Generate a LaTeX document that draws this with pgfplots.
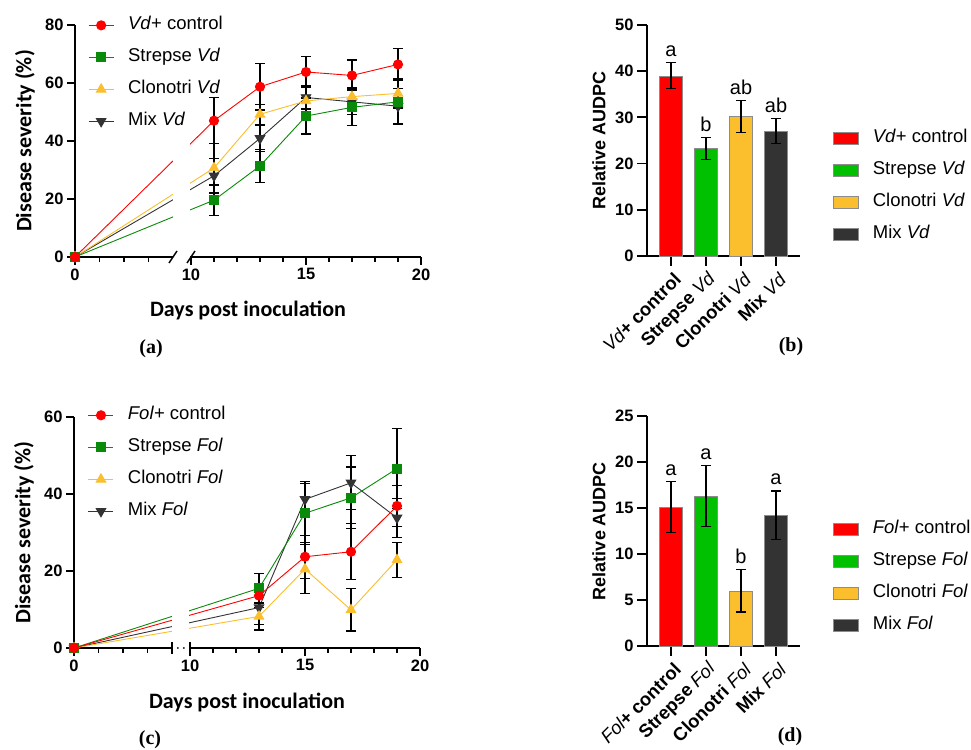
\documentclass[border=0pt]{standalone}
\usepackage{pgfplots}
\pgfplotsset{compat=1.18}
\usepackage{fontspec}
\setmainfont{Liberation Sans}
\newfontfamily\calib{Carlito}
\newfontfamily\capfont{Liberation Serif}

\definecolor{cred}{HTML}{FF0000}
\definecolor{cgreen}{HTML}{0A8A0A}
\definecolor{cbargreen}{HTML}{00C000}
\definecolor{cyell}{HTML}{FBBE2C}
\definecolor{cmix}{HTML}{333333}

\newcommand{\fs}[1]{\fontsize{#1}{#1}\selectfont}

\pgfplotsset{
  common/.style={
    scale only axis,
    axis lines=left, axis line style={line width=1.8pt,-},
    tick align=outside,
    major tick length=8pt, minor tick length=5pt,
    every tick/.style={black,line width=1.8pt},
    ymin=0, clip=false,
    tick label style={font=\bfseries\fs{16.5}},
    /pgf/number format/assume math mode=true,
    legend cell align=left,
    legend style={draw=none, fill=none, anchor=north west, font=\fs{18.5},
      inner sep=0pt, row sep=15pt, column sep=14pt,
      nodes={inner sep=0pt, text height=13pt, text depth=4pt}},
  },
  lineax/.style={
    common, width=346pt, height=232pt,
    x coord trafo/.code={\pgfmathparse{##1<9 ? ##1*12.25 : 116+(##1-10)*23}},
    xmin=0, xmax=20, xtick={0,10,15,20}, xticklabels={0,10,15,20},
    minor xtick={2,4,6,11,12,13,14,16,17,18,19},
    xlabel={\calib\bfseries\fs{22}Days post inoculation},
    ylabel={\calib\bfseries\fs{22}Disease severity (\%)},
    xlabel style={at={(axis description cs:0.5,0)}, anchor=center, yshift=-54pt},
    ylabel style={at={(axis description cs:-0.145,0.5)}, anchor=center},
    legend image code/.code={\draw[mark repeat=2,mark phase=2,##1] plot coordinates {(0pt,0pt)(12.5pt,0pt)(25pt,0pt)};},
    reverse legend,
    legend style={at={(axis description cs:0.0376,1.036)}},
  },
  barax/.style={
    common, width=153pt, height=231pt,
    xmin=-0.686, xmax=3.686, xtick={0,1,2,3},
    major tick length=10pt,
    ybar, bar width=23pt, bar shift=0pt,
    x tick label style={xshift=9pt, yshift=-8pt, rotate=45, anchor=east, font=\bfseries\fs{18.5}},
    ylabel={\bfseries\fs{18}Relative AUDPC},
    ylabel style={at={(axis description cs:-0.314,0.5)}, anchor=center},
    legend image code/.code={\draw[##1,draw=black!45,line width=0.6pt] (0pt,-6pt) rectangle (25pt,6pt);},
  },
  ebars/.style={error bars/.cd, y dir=both, y explicit,
    error bar style={black,line width=1.2pt},
    error mark options={black,line width=1.2pt,mark size=5pt,rotate=90}},
  smix/.style={cmix, line width=0.9pt, mark=triangle*, mark size=5.5pt, mark options={rotate=180, fill=cmix}, ebars},
  syel/.style={cyell, line width=0.9pt, mark=triangle*, mark size=5.5pt, mark options={fill=cyell}, ebars},
  sgrn/.style={cgreen, line width=0.9pt, mark=square*, mark size=4.5pt, mark options={fill=cgreen}, ebars},
  sred/.style={cred, line width=0.9pt, mark=*, mark size=4.6pt, mark options={fill=cred}, ebars},
}

\begin{document}
\begin{tikzpicture}
\useasboundingbox (0,0) rectangle (971pt,749pt);

% (a) Vd disease severity
\begin{axis}[lineax, at={(75pt,492pt)}, anchor=south west, ymax=80, ytick={0,20,40,60,80}]
\addplot[smix] coordinates {(0,0) (11,28.0) +- (0,6) (13,40.9) +- (0,4.5) (15,55.0) +- (0,4) (17,53.5) +- (0,4.5) (19,52.0) +- (0,6)};
\addplot[syel] coordinates {(0,0) (11,30.7) +- (0,8.5) (13,49.2) +- (0,3.5) (15,53.8) +- (0,5) (17,55.3) +- (0,3) (19,56.4) +- (0,5)};
\addplot[sgrn] coordinates {(0,0) (11,19.6) +- (0,5.2) (13,31.4) +- (0,5.7) (15,48.6) +- (0,6.2) (17,51.6) +- (0,6.3) (19,53.5) +- (0,7.7)};
\addplot[sred] coordinates {(0,0) (11,47.0) +- (0,8) (13,58.7) +- (0,8) (15,63.8) +- (0,5.3) (17,62.6) +- (0,5.3) (19,66.4) +- (0,5.5)};
\legend{Mix \textit{Vd}, Clonotri \textit{Vd}, Strepse \textit{Vd}, \textit{Vd}+ control}
\fill[white] (rel axis cs:0.2832,-0.03) rectangle (rel axis cs:0.332,0.56);
\draw[line width=1.5pt] ([xshift=-4pt,yshift=-6pt]rel axis cs:0.2832,0) -- ++(8pt,12pt);
\draw[line width=1.5pt] ([xshift=-4pt,yshift=-6pt]rel axis cs:0.3353,0) -- ++(8pt,12pt);
\end{axis}

% (c) Fol disease severity
\begin{axis}[lineax, at={(74pt,101pt)}, anchor=south west, height=231pt, ymax=60, ytick={0,20,40,60},
  legend style={at={(axis description cs:0.04,1.045)}}]
\addplot[smix] coordinates {(0,0) (13,10.5) +- (0,4.5) (15,38.6) +- (0,4.7) (17,42.9) +- (0,7) (19,33.8) +- (0,5)};
\addplot[syel] coordinates {(0,0) (13,8.2) +- (0,3.5) (15,20.5) +- (0,6.3) (17,9.9) +- (0,5.5) (19,22.9) +- (0,4.6)};
\addplot[sgrn] coordinates {(0,0) (13,15.5) +- (0,3.8) (15,35.0) +- (0,7.7) (17,39.0) +- (0,8) (19,46.6) +- (0,10.4)};
\addplot[sred] coordinates {(0,0) (13,13.6) +- (0,3) (15,23.7) +- (0,5.6) (17,25.0) +- (0,7.3) (19,36.9) +- (0,5.4)};
\legend{Mix \textit{Fol}, Clonotri \textit{Fol}, Strepse \textit{Fol}, \textit{Fol}+ control}
\fill[white] (rel axis cs:0.2832,-0.03) rectangle (rel axis cs:0.332,0.3);
\draw[line width=1.5pt] ([yshift=-6pt]rel axis cs:0.2832,0) -- ++(0,12pt);
\draw[line width=1.5pt] ([yshift=-6pt]rel axis cs:0.3353,0) -- ++(0,12pt);
\fill ([xshift=6pt]rel axis cs:0.2832,0) circle (1pt);
\fill ([xshift=12pt]rel axis cs:0.2832,0) circle (1pt);
\end{axis}

% (b) Vd AUDPC
\begin{axis}[barax, at={(647pt,493pt)}, anchor=south west, ymax=50, ytick={0,10,...,50},
  xticklabels={{\mdseries\itshape Vd}+ control, Strepse {\mdseries\itshape Vd}, Clonotri {\mdseries\itshape Vd}, Mix {\mdseries\itshape Vd}},
  legend style={at={(axis description cs:1.216,0.548)}}]
\addplot[fill=cred, draw=black!45, ebars] coordinates {(0,39.0) +- (0,2.8)};
\addplot[fill=cbargreen, draw=black!45, ebars] coordinates {(1,23.3) +- (0,2.4)};
\addplot[fill=cyell, draw=black!45, ebars] coordinates {(2,30.2) +- (0,3.4)};
\addplot[fill=cmix, draw=black!45, ebars] coordinates {(3,27.0) +- (0,2.7)};
\legend{\textit{Vd}+ control, Strepse \textit{Vd}, Clonotri \textit{Vd}, Mix \textit{Vd}}
\node[anchor=base, yshift=6pt, font=\fs{20}] at (axis cs:0,41.8) {a};
\node[anchor=base, yshift=6pt, font=\fs{20}] at (axis cs:1,25.7) {b};
\node[anchor=base, yshift=6pt, font=\fs{20}] at (axis cs:2,33.6) {ab};
\node[anchor=base, yshift=6pt, font=\fs{20}] at (axis cs:3,29.7) {ab};
\end{axis}

% (d) Fol AUDPC
\begin{axis}[barax, at={(647pt,103pt)}, anchor=south west, height=230pt, ymax=25, ytick={0,5,...,25},
  xticklabels={{\mdseries\itshape Fol}+ control, Strepse {\mdseries\itshape Fol}, Clonotri {\mdseries\itshape Fol}, Mix {\mdseries\itshape Fol}},
  legend style={at={(axis description cs:1.216,0.546)}}]
\addplot[fill=cred, draw=black!45, ebars] coordinates {(0,15.1) +- (0,2.75)};
\addplot[fill=cbargreen, draw=black!45, ebars] coordinates {(1,16.3) +- (0,3.3)};
\addplot[fill=cyell, draw=black!45, ebars] coordinates {(2,6.0) +- (0,2.3)};
\addplot[fill=cmix, draw=black!45, ebars] coordinates {(3,14.2) +- (0,2.65)};
\legend{\textit{Fol}+ control, Strepse \textit{Fol}, Clonotri \textit{Fol}, Mix \textit{Fol}}
\node[anchor=base, yshift=6pt, font=\fs{20}] at (axis cs:0,17.85) {a};
\node[anchor=base, yshift=6pt, font=\fs{20}] at (axis cs:1,19.6) {a};
\node[anchor=base, yshift=6pt, font=\fs{20}] at (axis cs:2,8.3) {b};
\node[anchor=base, yshift=6pt, font=\fs{20}] at (axis cs:3,16.85) {a};
\end{axis}

\node[font=\capfont\bfseries\fs{20}] at (151pt,400pt) {(a)};
\node[font=\capfont\bfseries\fs{20}] at (791pt,402pt) {(b)};
\node[font=\capfont\bfseries\fs{20}] at (150pt,9pt) {(c)};
\node[font=\capfont\bfseries\fs{20}] at (790pt,12pt) {(d)};
\end{tikzpicture}
\end{document}
